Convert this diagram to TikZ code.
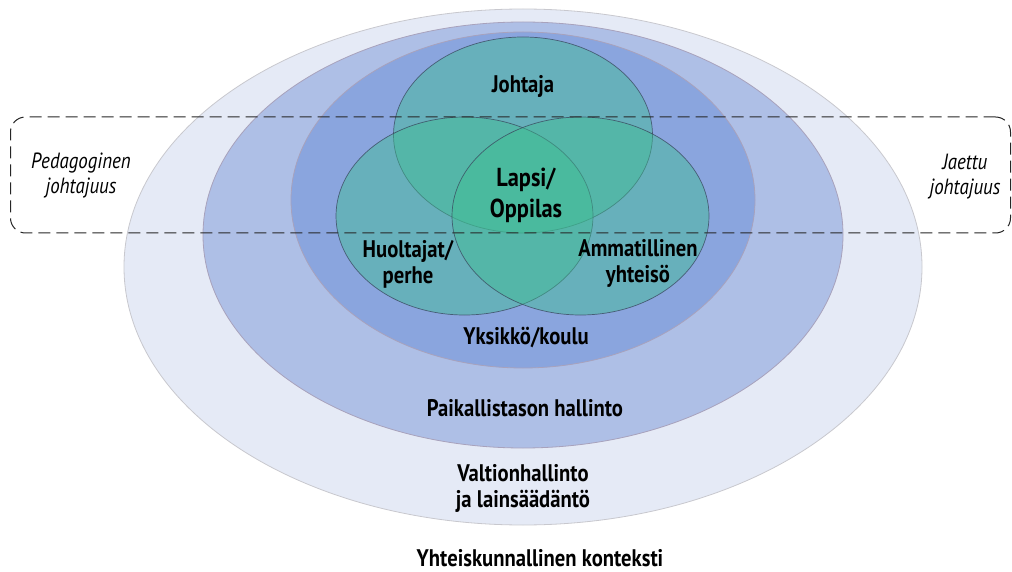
\documentclass[tikz,border=0pt]{standalone}
\usepackage{fontspec}
\setmainfont{PT Sans}[FakeStretch=0.86]
\usetikzlibrary{shapes.geometric}

\definecolor{outerfill}{HTML}{E5EAF6}
\definecolor{outerline}{HTML}{C8C8CE}
\definecolor{midfill}{HTML}{AEBFE6}
\definecolor{innerfill}{HTML}{8AA5DE}
\definecolor{ringline}{HTML}{A8A2BC}
\definecolor{vennfill}{HTML}{3EBF92}
\definecolor{vennline}{HTML}{3A4A60}

\tikzset{
    ring/.style={ellipse, inner sep=0pt, draw=ringline, line width=0.8pt},
    venn/.style={ellipse, inner sep=0pt, draw=vennline, line width=0.7pt,
        fill=vennfill, fill opacity=0.45, draw opacity=0.8},
    boldlabel/.style={align=center, inner sep=1pt, font=\bfseries\fontsize{24}{26}\selectfont},
    sidelabel/.style={align=center, inner sep=1pt, font=\itshape\fontsize{22}{25}\selectfont}
}

\begin{document}
\begin{tikzpicture}[x=1pt, y=-1pt]
    \useasboundingbox (0,0) rectangle (1012,572);
    % nested contexts
    \node[ring, fill=outerfill, draw=outerline, minimum width=798pt, minimum height=516pt] (valtio) at (523,267) {};
    \node[ring, fill=midfill, minimum width=640pt, minimum height=426pt] (kunta) at (523,235) {};
    \node[ring, fill=innerfill, minimum width=464pt, minimum height=336pt] (koulu) at (523,200) {};
    % the three actors
    \node[venn, minimum width=259pt, minimum height=196pt] (johtaja) at (523,135) {};
    \node[venn, minimum width=257pt, minimum height=198pt] (huoltajat) at (464.5,216) {};
    \node[venn, minimum width=257pt, minimum height=198pt] (yhteiso) at (580.5,216) {};
    % shared leadership band
    \node
    [
        draw=black!85,
        line width=1pt,
        dash pattern=on 12pt off 6pt,
        rounded corners=15pt,
        inner sep=0pt,
        minimum width=1000pt,
        minimum height=116pt
    ] (jako) at (510.5,175) {};

    \node[boldlabel] (johtajaT) at (523,86) {Johtaja};
    \node[boldlabel, font=\bfseries\fontsize{26}{31}\selectfont] (lapsi) at (526,195) {Lapsi/\\Oppilas};
    \node[boldlabel] (huoltajatT) at (408,264) {Huoltajat/\\perhe};
    \node[boldlabel] (yhteisoT) at (638,263) {Ammatillinen\\yhteisö};
    \node[boldlabel] (kouluT) at (526,338) {Yksikkö/koulu};
    \node[boldlabel] (kuntaT) at (525,408) {Paikallistason hallinto};
    \node[boldlabel] (valtioT) at (523,488) {Valtionhallinto\\ja lainsäädäntö};
    \node[boldlabel, anchor=base] (kontekstiT) at (540,566) {Yhteiskunnallinen konteksti};
    \node[sidelabel] (pedagoginen) at (81,176) {Pedagoginen\\johtajuus};
    \node[sidelabel] (jaettu) at (965,177) {Jaettu\\johtajuus};
\end{tikzpicture}
\end{document}
